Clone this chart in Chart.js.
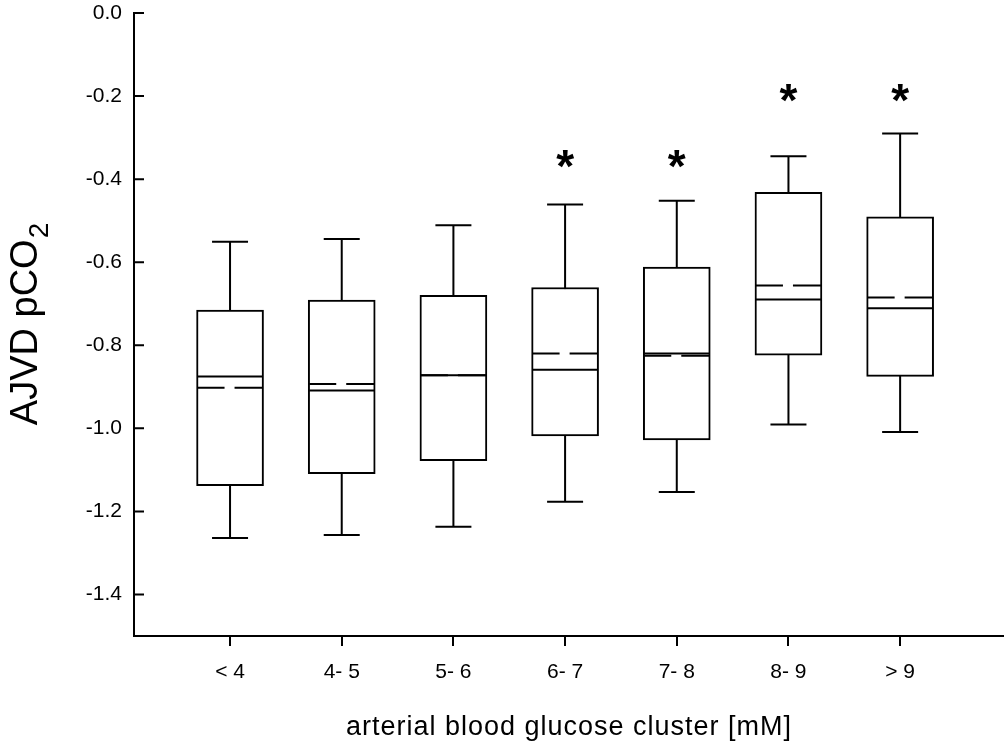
<!DOCTYPE html>
<html>
<head>
<meta charset="utf-8">
<script src="https://cdn.jsdelivr.net/npm/chart.js@4.4.1/dist/chart.umd.min.js"></script>
<style>
  html, body { margin: 0; padding: 0; background: #fff; }
  #wrap { width: 1004px; height: 749px; }
</style>
</head>
<body>
<div id="wrap"><canvas id="chart"></canvas></div>
<script>
const categories = ['< 4', '4- 5', '5- 6', '6- 7', '7- 8', '8- 9', '> 9'];
const whiskerHigh = [-0.551, -0.544, -0.511, -0.461, -0.452, -0.345, -0.290];
const q3 = [-0.715, -0.691, -0.680, -0.661, -0.612, -0.432, -0.491];
const medians = [-0.875, -0.909, -0.872, -0.859, -0.820, -0.690, -0.711];
const means = [-0.902, -0.893, -0.872, -0.820, -0.825, -0.656, -0.685];
const q1 = [-1.138, -1.109, -1.078, -1.018, -1.028, -0.824, -0.875];
const whiskerLow = [-1.264, -1.257, -1.237, -1.177, -1.153, -0.991, -1.009];
const starAt = [null, null, null, -0.352, -0.352, -0.192, -0.192]; // significance marks
const yTicks = [0, -0.2, -0.4, -0.6, -0.8, -1.0, -1.2, -1.4];

const FONT = '"Liberation Sans", Arial, Helvetica, sans-serif';
const BOX_W = 67;
const CAP_W = 36;

// whiskers, medians, means, stars, inward y ticks and axis titles
const boxExtras = {
  id: 'boxExtras',
  beforeDatasetsDraw(chart) {
    const { ctx, chartArea, scales: { x, y } } = chart;
    ctx.save();
    ctx.strokeStyle = '#000';
    ctx.lineWidth = 2;
    ctx.beginPath();
    y.ticks.forEach(t => {
      const py = y.getPixelForValue(t.value);
      ctx.moveTo(chartArea.left, py);
      ctx.lineTo(chartArea.left + 10, py);
    });
    ctx.stroke();
    categories.forEach((c, i) => {
      const cx = x.getPixelForValue(i);
      const hi = y.getPixelForValue(whiskerHigh[i]);
      const lo = y.getPixelForValue(whiskerLow[i]);
      ctx.beginPath();
      ctx.moveTo(cx, hi);
      ctx.lineTo(cx, lo);
      ctx.moveTo(cx - CAP_W / 2, hi);
      ctx.lineTo(cx + CAP_W / 2, hi);
      ctx.moveTo(cx - CAP_W / 2, lo);
      ctx.lineTo(cx + CAP_W / 2, lo);
      ctx.stroke();
    });
    ctx.restore();
  },
  afterDatasetsDraw(chart) {
    const { ctx, chartArea, scales: { x, y } } = chart;
    ctx.save();
    ctx.strokeStyle = '#000';
    ctx.lineWidth = 2;
    categories.forEach((c, i) => {
      const left = x.getPixelForValue(i) - BOX_W / 2 + 1;
      const right = left + BOX_W - 2;
      const m = y.getPixelForValue(medians[i]);
      ctx.setLineDash([]);
      ctx.beginPath();
      ctx.moveTo(left, m);
      ctx.lineTo(right, m);
      ctx.stroke();
      const mn = y.getPixelForValue(means[i]);
      ctx.setLineDash([27, 10, 40, 0]);
      ctx.beginPath();
      ctx.moveTo(left, mn);
      ctx.lineTo(right, mn);
      ctx.stroke();
    });
    ctx.setLineDash([]);

    // stars
    ctx.fillStyle = '#000';
    ctx.font = 'bold 46px ' + FONT;
    ctx.textAlign = 'center';
    ctx.textBaseline = 'alphabetic';
    const sm = ctx.measureText('*');
    starAt.forEach((v, i) => {
      if (v === null) return;
      const cy = y.getPixelForValue(v);
      const off = (sm.actualBoundingBoxAscent - sm.actualBoundingBoxDescent) / 2;
      ctx.fillText('*', x.getPixelForValue(i), cy + off);
    });

    // x title
    ctx.font = '27px ' + FONT;
    ctx.letterSpacing = '1px';
    ctx.fillText('arterial blood glucose cluster [mM]', (chartArea.left + chartArea.right) / 2, 735);
    ctx.letterSpacing = '0px';

    // y title with subscript
    const main = 'AJVD pCO';
    ctx.font = '38px ' + FONT;
    const wMain = ctx.measureText(main).width;
    ctx.font = '28px ' + FONT;
    const wSub = ctx.measureText('2').width;
    ctx.translate(37, (chartArea.top + chartArea.bottom) / 2);
    ctx.rotate(-Math.PI / 2);
    ctx.textAlign = 'left';
    const start = -(wMain + wSub) / 2;
    ctx.font = '38px ' + FONT;
    ctx.fillText(main, start, 0);
    ctx.font = '28px ' + FONT;
    ctx.fillText('2', start + wMain + 1, 11);
    ctx.restore();
  }
};

new Chart(document.getElementById('chart'), {
  type: 'bar',
  data: {
    datasets: [{
      label: 'AJVD pCO2',
      data: categories.map((c, i) => ({ x: i, y: [q1[i], q3[i]] })),
      backgroundColor: '#fff',
      borderColor: '#000',
      borderWidth: 2,
      borderSkipped: false,
      barThickness: BOX_W
    }]
  },
  options: {
    responsive: true,
    maintainAspectRatio: false,
    animation: false,
    layout: { padding: { top: 13, right: 0, left: 0, bottom: 0 } },
    plugins: {
      legend: { display: false },
      tooltip: { enabled: false }
    },
    scales: {
      x: {
        type: 'linear',
        offset: false,
        min: -0.86,
        max: 6.93,
        afterBuildTicks: scale => { scale.ticks = categories.map((c, i) => ({ value: i })); },
        afterFit: scale => { scale.height = 113; },
        ticks: {
          color: '#000',
          font: { family: FONT, size: 21 },
          padding: 14,
          maxRotation: 0,
          autoSkip: false,
          callback: v => categories[v]
        },
        grid: { display: true, offset: false, drawOnChartArea: false, tickLength: 10, color: '#000', lineWidth: 2 },
        border: { color: '#000', width: 2 }
      },
      y: {
        min: -1.5,
        max: 0,
        afterBuildTicks: scale => { scale.ticks = yTicks.map(v => ({ value: v })); },
        afterFit: scale => {
          scale.width = 134;
          scale.paddingTop = 0;
          scale.paddingBottom = 0;
        },
        ticks: {
          color: '#000',
          font: { family: FONT, size: 21 },
          padding: 12,
          callback: v => v.toFixed(1)
        },
        grid: { display: false, drawOnChartArea: false, drawTicks: false },
        border: { color: '#000', width: 2 }
      }
    }
  },
  plugins: [boxExtras]
});
</script>
</body>
</html>
